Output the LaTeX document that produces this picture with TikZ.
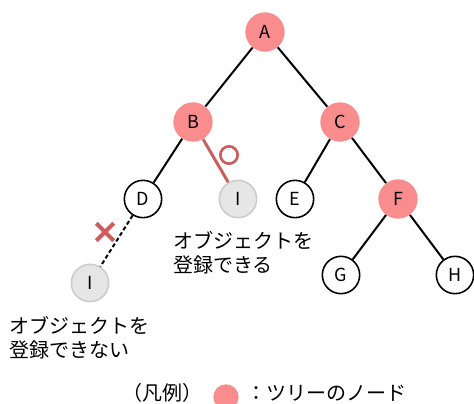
\documentclass[tikz,border=0pt]{standalone}
\usepackage{fontspec}
\setmainfont{Noto Sans CJK JP}
\usetikzlibrary{shapes.misc}
\definecolor{nodepink}{HTML}{F98C8C}
\definecolor{markred}{HTML}{CD5C5C}
\definecolor{leafgray}{HTML}{E6E6E6}
\definecolor{leafline}{HTML}{CCCCCC}
\begin{document}
\begin{tikzpicture}[x=0.75pt,y=-0.75pt]
\tikzstyle{point1}=[circle, fill=nodepink, inner sep=0, minimum size=29.5pt, font=\fontsize{13.5}{14}\selectfont]
\tikzstyle{point2}=[circle, fill=white, draw=black, line width=1.2pt, inner sep=0, minimum size=28pt, font=\fontsize{13.5}{14}\selectfont]
\tikzstyle{point3}=[circle, fill=leafgray, draw=leafline, line width=1.2pt, inner sep=0, minimum size=28pt, font=\fontsize{13.5}{14}\selectfont]
\tikzstyle{note}=[anchor=north west, align=left, inner sep=0, font=\fontsize{15}{18}\selectfont]

\useasboundingbox (0,0) rectangle (474,403);

\node (A) at (265,32) [point1] {A};
\node (B) at (193,122) [point1] {B};
\node (C) at (340,122) [point1] {C};
\node (D) at (143,199) [point2] {D};
\node (I1) at (238,199) [point3] {I};
\node (E) at (295,199) [point2] {E};
\node (F) at (398,199) [point1] {F};
\node (G) at (341,275) [point2] {G};
\node (H) at (455,275) [point2] {H};
\node (I2) at (90,283) [point3] {I};

\draw[line width=1.5pt] (A)--(B) (A)--(C) (B)--(D) (C)--(E) (C)--(F) (F)--(G) (F)--(H);
\draw[markred, line width=2.2pt] (B)--(I1);
\draw[dashed, line width=1.5pt, dash pattern=on 3pt off 2pt] (D)--(I2);

\node (ok) at (229,155) [circle, draw=markred, line width=2pt, inner sep=0, minimum size=13pt] {};
\node (ng) at (105,232) [cross out, draw=markred, line width=3pt, inner sep=0, minimum size=10pt] {};

\node (t1) at (173,231) [note] {オブジェクトを\\登録できる};
\node (t2) at (9,316) [note] {オブジェクトを\\登録できない};

% legend
\node (lg) at (162,393) [font=\fontsize{15}{18}\selectfont] {（凡例）};
\node (lc) at (226,397) [point1, minimum size=19pt] {};
\node (lt) at (246,393) [anchor=west, inner sep=0, font=\fontsize{15}{18}\selectfont] {：ツリーのノード};
\end{tikzpicture}
\end{document}
